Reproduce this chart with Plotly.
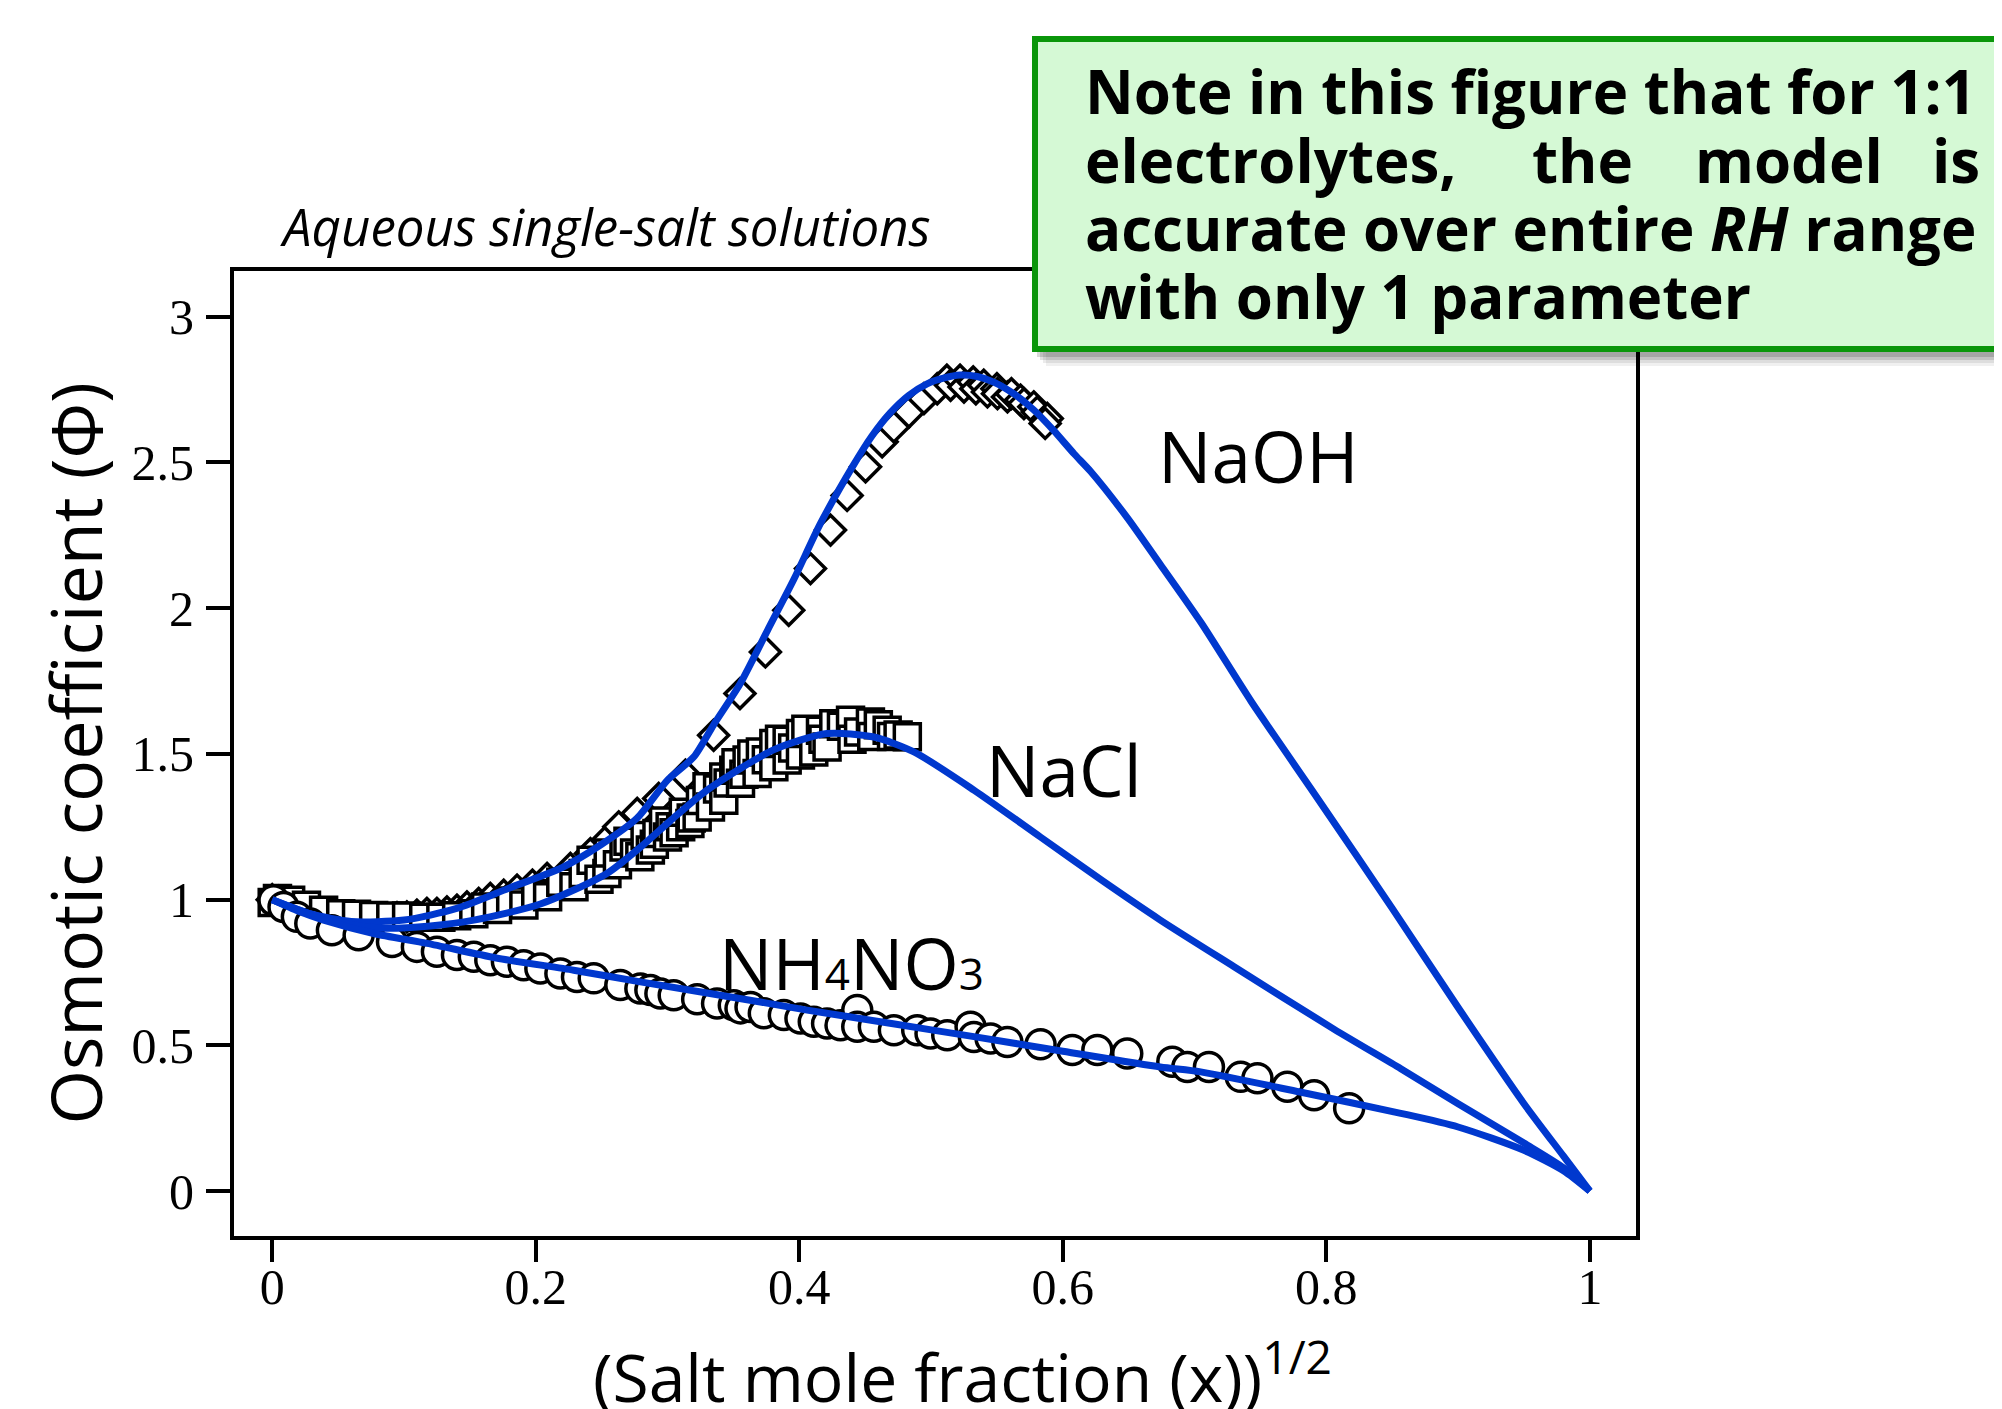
import plotly.graph_objects as go

# ---------------- data ----------------
# NaOH model curve
naoh_model_x = [0.0, 0.03, 0.06, 0.10, 0.14, 0.18, 0.22, 0.25, 0.277, 0.30, 0.32, 0.335, 0.355, 0.376,
                0.396, 0.416, 0.441, 0.455, 0.469, 0.483, 0.497, 0.51, 0.522, 0.535, 0.548, 0.563,
                0.578, 0.593, 0.6085, 0.621, 0.649, 0.674, 0.705, 0.743, 0.793, 0.85, 0.90, 0.95, 0.98, 1.0]
naoh_model_y = [1.0, 0.95, 0.925, 0.93, 0.97, 1.04, 1.11, 1.19, 1.28, 1.41, 1.49, 1.60, 1.74, 1.925,
                2.10, 2.29, 2.49, 2.59, 2.67, 2.73, 2.77, 2.79, 2.80, 2.795, 2.775, 2.735,
                2.68, 2.61, 2.53, 2.47, 2.31, 2.15, 1.95, 1.68, 1.35, 0.97, 0.63, 0.30, 0.12, 0.0]

# NaCl model curve
nacl_model_x = [0.0, 0.03, 0.06, 0.085, 0.12, 0.153, 0.2035, 0.254, 0.2794, 0.302, 0.33, 0.38, 0.421,
                0.4566, 0.487, 0.5325, 0.583, 0.63, 0.674, 0.73, 0.806, 0.8565, 0.90, 0.95, 0.98, 1.0]
nacl_model_y = [1.0, 0.95, 0.915, 0.902, 0.91, 0.93, 0.985, 1.09, 1.18, 1.27, 1.376, 1.513, 1.57,
                1.558, 1.507, 1.376, 1.215, 1.065, 0.93, 0.77, 0.555, 0.42, 0.30, 0.165, 0.08, 0.0]

# NH4NO3 model curve
nh4_model_x = [0.0, 0.02, 0.039, 0.077, 0.1175, 0.17, 0.2288, 0.2794, 0.3705, 0.406, 0.47, 0.5325,
               0.60, 0.674, 0.7046, 0.78, 0.8565, 0.90, 0.95, 0.98, 1.0]
nh4_model_y = [1.0, 0.96, 0.93, 0.884, 0.85, 0.80, 0.758, 0.718, 0.649, 0.621, 0.575, 0.53,
               0.48, 0.426, 0.409, 0.34, 0.267, 0.22, 0.14, 0.07, 0.0]

# NaOH data (diamonds)
naoh_x = [0.0, 0.005, 0.01, 0.02, 0.03, 0.04, 0.05, 0.057, 0.0643, 0.0719, 0.0795, 0.0871, 0.0947,
          0.1022, 0.1098, 0.1174, 0.125, 0.1326, 0.1402, 0.1478, 0.1567, 0.1655, 0.1757, 0.1858,
          0.1975, 0.2086, 0.2263, 0.2415, 0.2541, 0.263, 0.277, 0.2933, 0.3136, 0.335, 0.355,
          0.3743, 0.392, 0.4085, 0.4237, 0.4363, 0.4503, 0.4629, 0.4718, 0.4832, 0.4946, 0.5047,
          0.512, 0.5148, 0.522, 0.525, 0.532, 0.534, 0.540, 0.5428, 0.550, 0.5504, 0.558, 0.561,
          0.5679, 0.5705, 0.578, 0.5806, 0.5882, 0.5866]
naoh_y = [1.0, 0.995, 0.985, 0.97, 0.958, 0.948, 0.94, 0.936, 0.933, 0.933, 0.933, 0.936, 0.938,
          0.941, 0.947, 0.953, 0.953, 0.958, 0.964, 0.975, 0.987, 1.004, 1.015, 1.033,
          1.05, 1.073, 1.107, 1.158, 1.204, 1.25, 1.296, 1.347, 1.427, 1.564, 1.707,
          1.850, 1.993, 2.136, 2.268, 2.387, 2.485, 2.571, 2.622, 2.673, 2.719, 2.753,
          2.782, 2.765, 2.782, 2.759, 2.776, 2.753, 2.765, 2.742, 2.753, 2.736, 2.725, 2.736,
          2.714, 2.702, 2.691, 2.673, 2.651, 2.634]

# NaCl data (squares)
nacl_x = [0.0, 0.004, 0.014, 0.026, 0.039, 0.052, 0.064, 0.077, 0.090, 0.102, 0.115, 0.128, 0.140,
          0.153, 0.162, 0.171, 0.181, 0.191, 0.200, 0.209, 0.219, 0.229, 0.236, 0.242, 0.248, 0.254,
          0.255, 0.262, 0.267, 0.270, 0.275, 0.279, 0.283, 0.287, 0.290, 0.292, 0.297, 0.300, 0.302,
          0.305, 0.310, 0.312, 0.317, 0.318, 0.3225, 0.325, 0.330, 0.3326, 0.338, 0.3427, 0.3427,
          0.346, 0.3503, 0.352, 0.3554, 0.358, 0.3604, 0.364, 0.368, 0.3705, 0.375, 0.3807, 0.3807,
          0.385, 0.3908, 0.3908, 0.395, 0.4009, 0.4009, 0.405, 0.411, 0.4161, 0.418, 0.4211, 0.4262,
          0.432, 0.4389, 0.440, 0.445, 0.454, 0.455, 0.460, 0.4667, 0.470, 0.475, 0.482]
nacl_y = [0.99, 1.004, 0.998, 0.981, 0.964, 0.952, 0.950, 0.946, 0.944, 0.944, 0.940, 0.940, 0.945,
          0.952, 0.975, 0.966, 0.995, 0.982, 1.02, 1.010, 1.06, 1.044, 1.09, 1.135, 1.07, 1.090,
          1.16, 1.12, 1.181, 1.20, 1.16, 1.147, 1.22, 1.170, 1.19, 1.227, 1.27, 1.215, 1.25,
          1.23, 1.25, 1.30, 1.261, 1.28, 1.284, 1.34, 1.387, 1.318, 1.38, 1.341, 1.421,
          1.40, 1.444, 1.47, 1.399, 1.43, 1.479, 1.50, 1.433, 1.507, 1.48, 1.456, 1.536,
          1.55, 1.479, 1.547, 1.52, 1.496, 1.570, 1.585, 1.507, 1.581, 1.55, 1.524, 1.604,
          1.595, 1.616, 1.55, 1.575, 1.610, 1.56, 1.60, 1.581, 1.56, 1.565, 1.559]

# NH4NO3 data (circles)
nh4_x = [0.001, 0.0086, 0.0187, 0.0289, 0.0453, 0.0656, 0.0909, 0.1098, 0.125, 0.1402, 0.153, 0.1655,
         0.1781, 0.1908, 0.2035, 0.2187, 0.2313, 0.244, 0.2642, 0.2794, 0.287, 0.2946, 0.3047, 0.3225,
         0.3376, 0.3503, 0.3554, 0.363, 0.3731, 0.3883, 0.4009, 0.411, 0.4211, 0.4313, 0.444, 0.444,
         0.4566, 0.4718, 0.4895, 0.4996, 0.5123, 0.53, 0.5325, 0.5452, 0.5579, 0.5831, 0.6072,
         0.6262, 0.6489, 0.6831, 0.6945, 0.7109, 0.735, 0.7477, 0.7704, 0.7907, 0.8173]
nh4_y = [0.998, 0.975, 0.941, 0.918, 0.895, 0.878, 0.855, 0.838, 0.821, 0.810, 0.804, 0.792,
         0.787, 0.775, 0.764, 0.747, 0.735, 0.730, 0.707, 0.695, 0.690, 0.678, 0.672, 0.658,
         0.644, 0.638, 0.627, 0.632, 0.610, 0.604, 0.592, 0.581, 0.575, 0.569, 0.621, 0.564,
         0.564, 0.552, 0.552, 0.541, 0.535, 0.564, 0.529, 0.524, 0.512, 0.504, 0.484,
         0.484, 0.472, 0.444, 0.426, 0.426, 0.392, 0.387, 0.358, 0.329, 0.284]

x_ticks = [0, 0.2, 0.4, 0.6, 0.8, 1.0]
x_tick_labels = ["0", "0.2", "0.4", "0.6", "0.8", "1"]
y_ticks = [0, 0.5, 1.0, 1.5, 2.0, 2.5, 3.0]
y_tick_labels = ["0", "0.5", "1", "1.5", "2", "2.5", "3"]

note_lines = ["Note in this figure that for 1:1",
              "accurate over entire <i>RH</i> range",
              "with only 1 parameter"]
note_line2_words = ["electrolytes,", "the", "model", "is"]

# ---------------- layout geometry (pixels, in screenshot coordinates) ----------------
W, H = 2002, 1409
OFF = 8                      # page body margin offset
PL, PR, PT, PB = 234, 1636, 271, 1236   # plot area edges in the screenshot
PW, PH = PR - PL, PB - PT
ML, MT = PL - OFF, PT - OFF
MR = W - ML - PW
MB = H - MT - PH


def px(x):
    return (x - PL) / PW


def py(y):
    return (PB - y) / PH


BLUE = "#0038CE"
SANS = "Open Sans"
SERIF = "Liberation Serif"

fig = go.Figure()

fig.add_trace(go.Scatter(x=naoh_x, y=naoh_y, mode="markers",
                         marker=dict(symbol="diamond", size=23, color="white",
                                     line=dict(color="black", width=3.5)),
                         showlegend=False))
fig.add_trace(go.Scatter(x=nacl_x, y=nacl_y, mode="markers",
                         marker=dict(symbol="square", size=26, color="white",
                                     line=dict(color="black", width=3.5)),
                         showlegend=False))
fig.add_trace(go.Scatter(x=nh4_x, y=nh4_y, mode="markers",
                         marker=dict(symbol="circle", size=29, color="white",
                                     line=dict(color="black", width=3.5)),
                         showlegend=False))
for mx, my in [(naoh_model_x, naoh_model_y), (nacl_model_x, nacl_model_y), (nh4_model_x, nh4_model_y)]:
    fig.add_trace(go.Scatter(x=mx, y=my, mode="lines",
                             line=dict(color=BLUE, width=7, shape="spline", smoothing=0.7),
                             showlegend=False))

axis_common = dict(showgrid=False, zeroline=False, showline=True, linecolor="black", linewidth=4,
                   mirror=True, ticks="outside", tickwidth=4, tickcolor="black",
                   tickfont=dict(family=SERIF, size=50, color="black"))

fig.update_xaxes(range=[-0.029, 1.035], tickvals=x_ticks, ticktext=x_tick_labels,
                 ticklen=22, ticklabelstandoff=-18, **axis_common)
fig.update_yaxes(range=[-0.154, 3.157], tickvals=y_ticks, ticktext=y_tick_labels,
                 ticklen=24, ticklabelstandoff=2, **axis_common)

annotations = []
# curve labels
annotations.append(dict(x=0.6705, y=2.525, xref="x", yref="y", text="NaOH", showarrow=False,
                        xanchor="left", yanchor="middle", font=dict(family=SANS, size=71, color="black")))
annotations.append(dict(x=0.5399, y=1.448, xref="x", yref="y", text="NaCl", showarrow=False,
                        xanchor="left", yanchor="middle", font=dict(family=SANS, size=71, color="black")))
annotations.append(dict(x=0.3379, y=0.784, xref="x", yref="y",
                        text='NH<span style="font-size:44px">4</span>NO<span style="font-size:44px">3</span>',
                        showarrow=False, xanchor="left", yanchor="middle",
                        font=dict(family=SANS, size=71, color="black")))
# title
annotations.append(dict(x=px(278), y=py(226), xref="paper", yref="paper",
                        text="<i>Aqueous single-salt solutions</i>", showarrow=False,
                        xanchor="left", yanchor="middle", font=dict(family=SANS, size=51, color="black")))
# axis titles
annotations.append(dict(x=px(74), y=0.5, xref="paper", yref="paper", textangle=-90,
                        text="Osmotic coefficient (\u03a6)", showarrow=False,
                        xanchor="center", yanchor="middle", font=dict(family=SANS, size=70, color="black")))
annotations.append(dict(x=px(591), y=py(1373), xref="paper", yref="paper",
                        text="(Salt mole fraction (x))<sup>1/2</sup>", showarrow=False,
                        xanchor="left", yanchor="middle", font=dict(family=SANS, size=66, color="black")))

# note box text
note_font = dict(family=SANS, size=60, color="black", weight="bold")
line_centers = [91, 160, 228, 296]
annotations.append(dict(x=px(1083), y=py(line_centers[0]), xref="paper", yref="paper",
                        text=note_lines[0], showarrow=False, xanchor="left", yanchor="middle",
                        font=note_font))
for word, wx in zip(note_line2_words, [1083, 1530, 1693, 1930]):
    annotations.append(dict(x=px(wx), y=py(line_centers[1]), xref="paper", yref="paper",
                            text=word, showarrow=False, xanchor="left", yanchor="middle",
                            font=note_font))
annotations.append(dict(x=px(1083), y=py(line_centers[2]), xref="paper", yref="paper",
                        text=note_lines[1], showarrow=False, xanchor="left", yanchor="middle",
                        font=note_font))
annotations.append(dict(x=px(1083), y=py(line_centers[3]), xref="paper", yref="paper",
                        text=note_lines[2], showarrow=False, xanchor="left", yanchor="middle",
                        font=note_font))

shapes = []
# shadow
for off, alpha in [(14, 0.06), (11, 0.08), (8, 0.12), (5, 0.15)]:
    shapes.append(dict(type="rect", xref="paper", yref="paper", layer="above",
                       x0=px(1032 + off), x1=px(2030), y0=py(352 + off), y1=py(36 + off),
                       fillcolor=f"rgba(0,0,0,{alpha})", line=dict(width=0)))
shapes.append(dict(type="rect", xref="paper", yref="paper", layer="above",
                   x0=px(1035), x1=px(2030), y0=py(349), y1=py(39),
                   fillcolor="#d5f9d5", line=dict(color="#0a960a", width=6)))

fig.update_layout(width=W, height=H, margin=dict(l=ML, r=MR, t=MT, b=MB),
                  plot_bgcolor="white", paper_bgcolor="white",
                  annotations=annotations, shapes=shapes, showlegend=False)

fig.write_html("out.html")
